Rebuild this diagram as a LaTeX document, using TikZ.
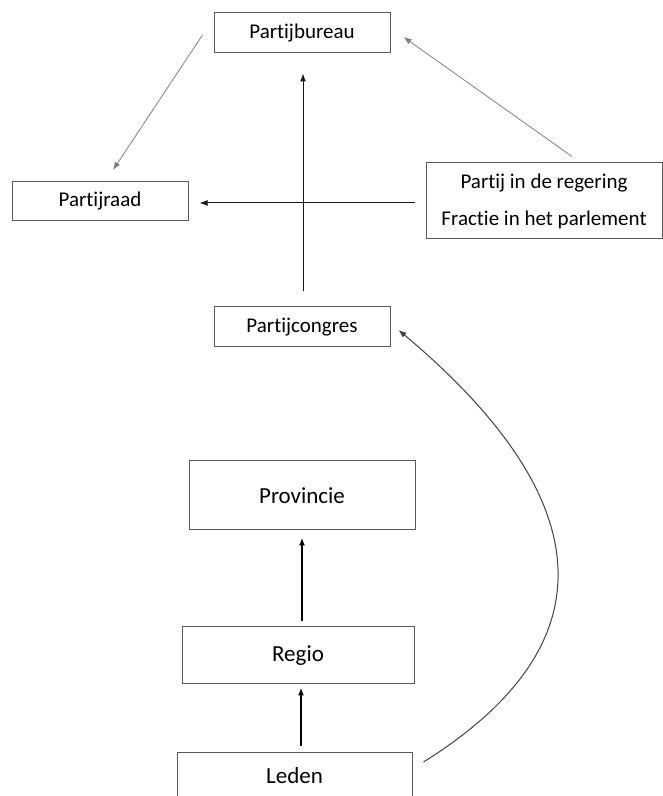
\documentclass[tikz,border=0pt]{standalone}
\usepackage{fontspec}
\setmainfont{Carlito}[Ligatures=NoCommon]
\usetikzlibrary{arrows.meta}

\begin{document}
\begin{tikzpicture}[x=1pt,y=1pt,>={Latex[length=8pt,width=6pt]}]
		\tikzstyle{box}=[draw=black!65,line width=1pt,inner sep=3pt,font=\fontsize{21}{25}\selectfont]
		\tikzstyle{bigbox}=[box,font=\fontsize{23}{27}\selectfont]
		\tikzstyle{thin}=[draw=black!50,line width=0.8pt,->]
		\tikzstyle{edge}=[draw=black!90,line width=1pt,->]
		\tikzstyle{thick}=[draw=black,line width=1.6pt,->]

		\useasboundingbox (0,0) rectangle (663,796);

		 \node [box,minimum width=176,minimum height=40] (bureau) at (302,763) {Partijbureau};
		 \node [box,minimum width=176,minimum height=39] (raad) at (100,595) {Partijraad};
		 \node [box,minimum width=236,minimum height=76,align=center] (regering) at (544,595) {Partij in de regering\\[12pt]Fractie in het parlement};
		 \node [box,minimum width=176,minimum height=40] (congres) at (302,469) {Partijcongres};

		 \node [bigbox,minimum width=226,minimum height=69] (provincie) at (302,300.5) {Provincie};
		 \node [bigbox,minimum width=232,minimum height=57] (regio) at (298,140.5) {Regio};
		 \node [bigbox,minimum width=235,minimum height=46] (leden) at (294.5,20) {Leden};

		 \path[thin] ([shift={(-11,-2)}]bureau.west) -- ([shift={(13,11)}]raad.north);
		 \path[thin] ([shift={(28,6)}]regering.north) -- ([shift={(13,-4)}]bureau.east);
		 \path[edge] ([shift={(-11,-2)}]regering.west) -- ([shift={(11,-2)}]raad.east);
		 \path[edge] ([shift={(1,15)}]congres.north) -- ([shift={(1,-20)}]bureau.south);

		 \path[thick] ([shift={(0,5)}]regio.north -| provincie.south) -- ([shift={(0,-7)}]provincie.south);
		 \path[thick] ([shift={(6.5,6)}]leden.north) -- ([shift={(3,-3)}]regio.south);
		 \path[edge,draw=black!75] ([shift={(11,14)}]leden.east) to[out=32,in=-40,looseness=1.42] ([shift={(8,-3)}]congres.east);

	\end{tikzpicture}
\end{document}
